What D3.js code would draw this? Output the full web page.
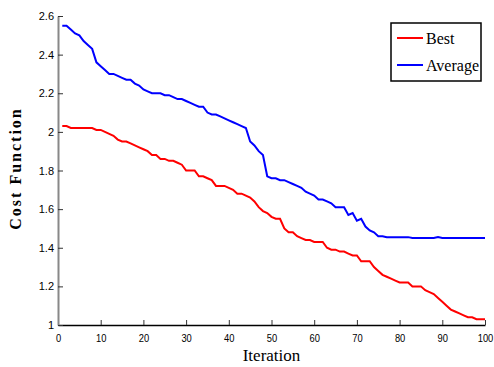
<!DOCTYPE html>
<html>
<head>
<meta charset="utf-8">
<script src="https://cdn.jsdelivr.net/npm/d3@7"></script>
<style>
  body { margin: 0; background: #fff; }
  .tick text { font-family: "Liberation Sans Narrow", "Arial Narrow", "Liberation Sans", sans-serif; font-size: 11px; fill: #000; }
</style>
</head>
<body>
<div id="chart"></div>
<script>
// iteration 1..100
const best = [
  2.03, 2.03, 2.02, 2.02, 2.02, 2.02, 2.02, 2.02, 2.01, 2.01,
  2.00, 1.99, 1.98, 1.96, 1.95, 1.95, 1.94, 1.93, 1.92, 1.91,
  1.90, 1.88, 1.88, 1.86, 1.86, 1.85, 1.85, 1.84, 1.83, 1.80,
  1.80, 1.80, 1.77, 1.77, 1.76, 1.75, 1.72, 1.72, 1.72, 1.71,
  1.70, 1.68, 1.68, 1.67, 1.66, 1.64, 1.61, 1.59, 1.58, 1.56,
  1.55, 1.55, 1.50, 1.48, 1.48, 1.46, 1.45, 1.44, 1.44, 1.43,
  1.43, 1.43, 1.40, 1.39, 1.39, 1.38, 1.38, 1.37, 1.36, 1.36,
  1.33, 1.33, 1.33, 1.30, 1.28, 1.26, 1.25, 1.24, 1.23, 1.22,
  1.22, 1.22, 1.20, 1.20, 1.20, 1.18, 1.17, 1.16, 1.14, 1.12,
  1.10, 1.08, 1.07, 1.06, 1.05, 1.04, 1.04, 1.03, 1.03, 1.03
];
const average = [
  2.55, 2.55, 2.53, 2.51, 2.50, 2.47, 2.45, 2.43, 2.36, 2.34,
  2.32, 2.30, 2.30, 2.29, 2.28, 2.27, 2.27, 2.25, 2.24, 2.22,
  2.21, 2.20, 2.20, 2.20, 2.19, 2.19, 2.18, 2.17, 2.17, 2.16,
  2.15, 2.14, 2.13, 2.13, 2.10, 2.09, 2.09, 2.08, 2.07, 2.06,
  2.05, 2.04, 2.03, 2.02, 1.95, 1.93, 1.90, 1.88, 1.77, 1.76,
  1.76, 1.75, 1.75, 1.74, 1.73, 1.72, 1.71, 1.69, 1.68, 1.67,
  1.65, 1.65, 1.64, 1.63, 1.61, 1.61, 1.61, 1.57, 1.58, 1.54,
  1.55, 1.51, 1.49, 1.48, 1.46, 1.46, 1.455, 1.455, 1.455, 1.455,
  1.455, 1.455, 1.45, 1.45, 1.45, 1.45, 1.45, 1.45, 1.455, 1.45,
  1.45, 1.45, 1.45, 1.45, 1.45, 1.45, 1.45, 1.45, 1.45, 1.45
];
const xTicks = [0, 10, 20, 30, 40, 50, 60, 70, 80, 90, 100];
const yTicks = [1, 1.2, 1.4, 1.6, 1.8, 2, 2.2, 2.4, 2.6];
const seriesNames = ["Best", "Average"];
const seriesColors = ["#ff0000", "#0000ff"];

const W = 494, H = 367;
const margin = {top: 16, right: 9, bottom: 42, left: 58};

const svg = d3.select("#chart").append("svg")
  .attr("width", W).attr("height", H);

const x = d3.scaleLinear().domain([0, 100]).range([margin.left, W - margin.right]);
const y = d3.scaleLinear().domain([1, 2.6]).range([H - margin.bottom, margin.top]);

// axes with inward ticks
const xAxis = svg.append("g")
  .attr("transform", "translate(0," + (H - margin.bottom) + ")")
  .call(d3.axisBottom(x).tickValues(xTicks).tickSizeInner(-5).tickSizeOuter(0).tickPadding(9).tickFormat(d3.format("d")));
xAxis.select(".domain").attr("stroke", "#000").attr("stroke-width", 1.5);
xAxis.selectAll(".tick line").attr("stroke", "#333");
xAxis.selectAll(".tick text").attr("transform", "scale(0.85,1)");

const yAxis = svg.append("g")
  .attr("transform", "translate(" + margin.left + ",0)")
  .call(d3.axisLeft(y).tickValues(yTicks).tickSizeInner(-5).tickSizeOuter(0).tickPadding(4).tickFormat(d => d3.format("")(d)));
yAxis.select(".domain").attr("stroke", "#888").attr("stroke-width", 2);
yAxis.selectAll(".tick line").attr("stroke", "#333");

const line = d3.line()
  .x((d, i) => x(i + 1))
  .y(d => y(d));

[best, average].forEach((s, k) => {
  svg.append("path")
    .datum(s)
    .attr("fill", "none")
    .attr("stroke", seriesColors[k])
    .attr("stroke-width", 2)
    .attr("d", line);
});

// labels
svg.append("text")
  .attr("x", x(50)).attr("y", H - 6)
  .attr("text-anchor", "middle")
  .style("font-family", "'Liberation Serif', 'Times New Roman', serif")
  .style("font-size", "17px")
  .text("Iteration");

svg.append("text")
  .attr("transform", "translate(21," + (y(1.8) - 2) + ") rotate(-90)")
  .attr("text-anchor", "middle")
  .style("font-family", "'Liberation Serif', 'Times New Roman', serif")
  .style("font-size", "16px")
  .style("font-weight", "bold")
  .style("letter-spacing", "2px")
  .text("Cost Function");

// legend
const lg = svg.append("g").attr("transform", "translate(391,23)");
lg.append("rect").attr("width", 90).attr("height", 58)
  .attr("fill", "#fff").attr("stroke", "#000").attr("stroke-width", 1.5);
seriesNames.forEach((n, i) => {
  const yy = 15 + i * 27;
  lg.append("line").attr("x1", 6).attr("x2", 32).attr("y1", yy).attr("y2", yy)
    .attr("stroke", seriesColors[i]).attr("stroke-width", 2);
  lg.append("text").attr("x", 35).attr("y", yy + 6)
    .style("font-family", "'Liberation Serif', 'Times New Roman', serif")
    .style("font-size", "16px")
    .text(n);
});
</script>
</body>
</html>
